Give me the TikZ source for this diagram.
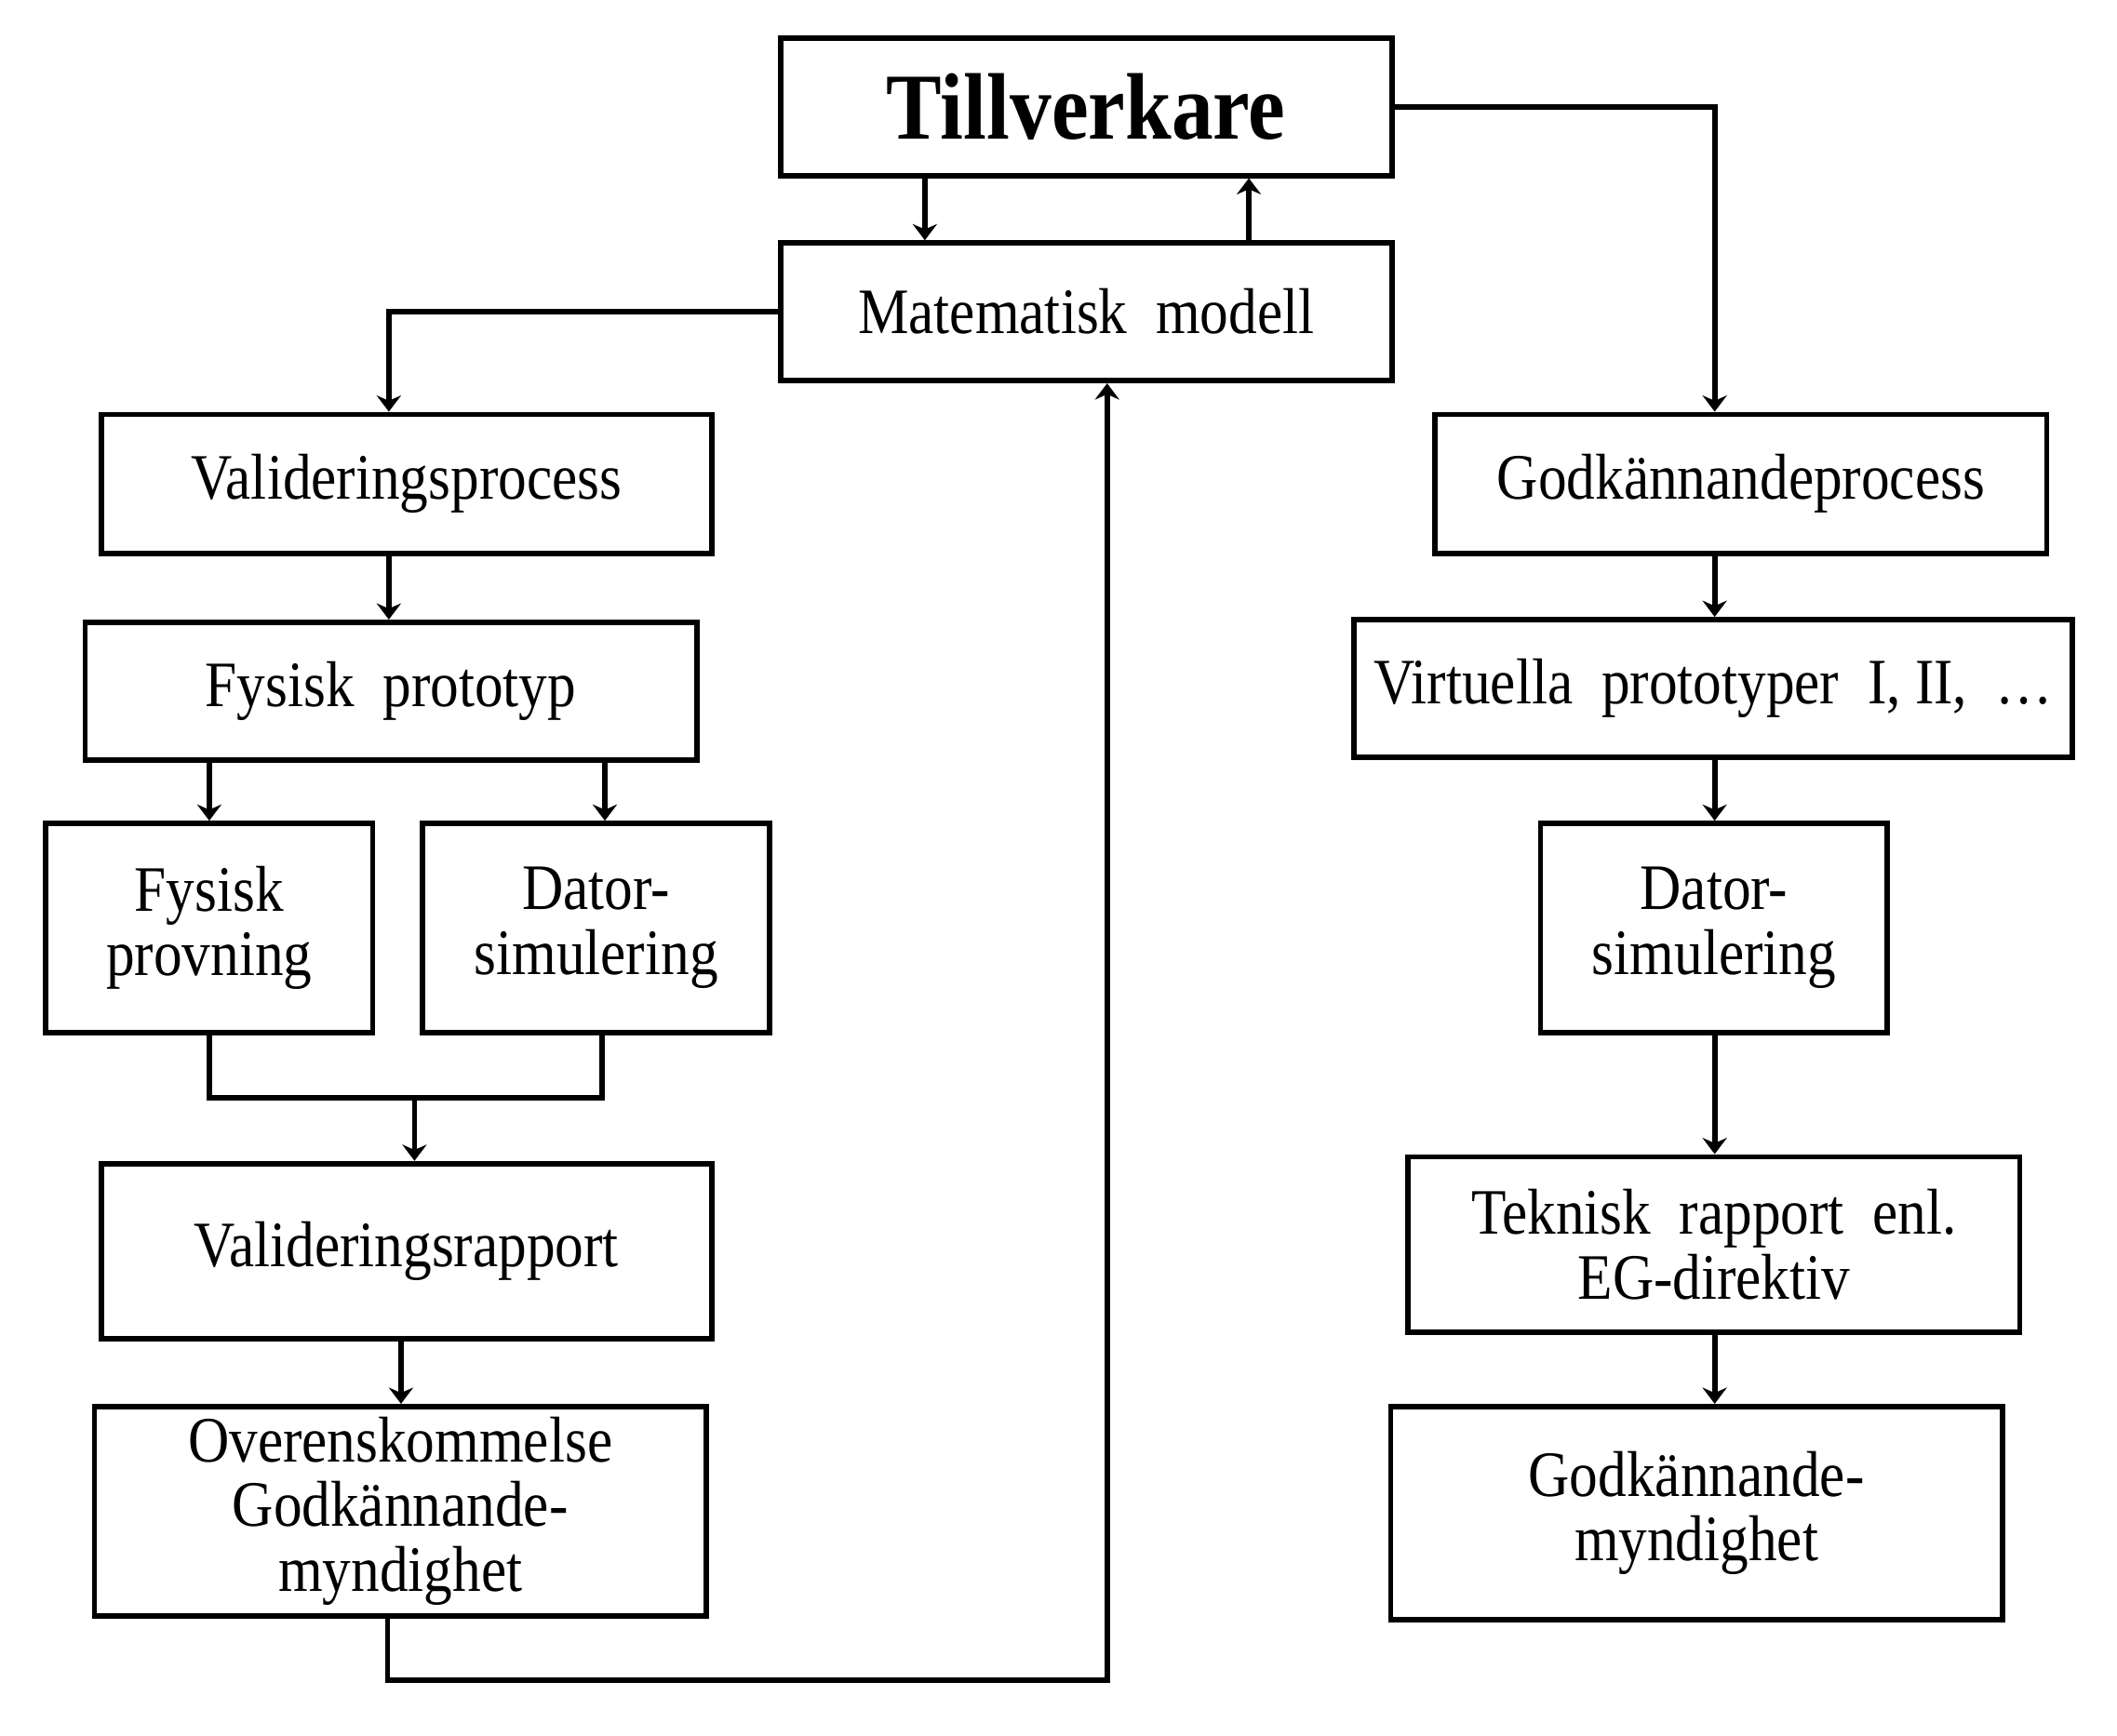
\documentclass[tikz,border=0pt]{standalone}
\usepackage{fontspec}
\setmainfont{Liberation Serif}[FakeStretch=0.88]
\usetikzlibrary{arrows.meta}
\begin{document}
\begin{tikzpicture}[x=0.5pt,y=-0.5pt,
  box/.style={draw, line width=2pt, inner sep=0pt, align=center,
    font=\fontsize{24}{24}\selectfont},
  conn/.style={line width=2pt},
  arr/.style={line width=2pt, -{Stealth[length=6pt,width=9pt]}}]
\useasboundingbox (0,0) rectangle (1568,1286);
% boxes
\node[box, minimum width=226.5pt, minimum height=51pt, font=\fontsize{35}{35}\selectfont\bfseries] (till) at (804.5,79) {Tillverkare};
\node[box, minimum width=226.5pt, minimum height=51pt] (mat) at (804.5,231) {Matematisk\ \ modell};
\node[box, minimum width=226pt, minimum height=51.5pt] (valp) at (301,358.5) {Valideringsprocess};
\node[box, minimum width=226.5pt, minimum height=51pt] (fproto) at (289.5,512) {Fysisk\ \ prototyp};
\node[box, minimum width=121pt, minimum height=77.5pt] (fprov) at (155,687.5) {Fysisk\\provning};
\node[box, minimum width=128.5pt, minimum height=77.5pt] (dsimL) at (441.5,687.5) {Dator-\\simulering};
\node[box, minimum width=226pt, minimum height=65pt] (valr) at (301,927) {Valideringsrapport};
\node[box, minimum width=226.5pt, minimum height=77.5pt] (over) at (296.5,1119.5) {Overenskommelse\\Godkännande-\\myndighet};
\node[box, minimum width=226.5pt, minimum height=51.5pt] (godp) at (1289.5,358.5) {Godkännandeprocess};
\node[box, minimum width=266pt, minimum height=51pt] (virt) at (1269,510) {Virtuella\ \ prototyper\ \ I,\ II,\ \ \dots};
\node[box, minimum width=128.5pt, minimum height=77.5pt] (dsimR) at (1269.5,687.5) {Dator-\\simulering};
\node[box, minimum width=226.5pt, minimum height=65pt] (tek) at (1269.5,922) {Teknisk\ \ rapport\ \ enl.\\EG-direktiv};
\node[box, minimum width=226.5pt, minimum height=79pt] (godm) at (1256.5,1121) {Godkännande-\\myndighet};
% helper coordinates
\coordinate (xA) at (685,0);
\coordinate (xB) at (925,0);
\coordinate (xR) at (1270,0);
\coordinate (xL) at (288,0);
\coordinate (xD) at (448,0);
\coordinate (xE) at (446,0);
\coordinate (jL) at (307,813);
\coordinate (xV) at (297,0);
\coordinate (b1) at (287,1245);
\coordinate (b2) at (820,1245);
% connectors
\draw[arr] (till.south -| xA) -- (mat.north -| xA);
\draw[arr] (mat.north -| xB) -- (till.south -| xB);
\draw[arr] (till.east) -| (godp.north -| xR);
\draw[arr] (mat.west) -| (valp.north -| xL);
\draw[arr] (valp.south -| xL) -- (fproto.north -| xL);
\draw[arr] (fproto.south -| fprov.north) -- (fprov.north);
\draw[arr] (fproto.south -| xD) -- (dsimL.north -| xD);
\draw[conn] (fprov.south) |- (jL) -| (dsimL.south -| xE);
\draw[arr] (jL) -- (valr.north -| jL);
\draw[arr] (valr.south -| xV) -- (over.north -| xV);
\draw[arr] (over.south -| b1) -- (b1) -- (b2) -- (mat.south -| b2);
\draw[arr] (godp.south -| xR) -- (virt.north -| xR);
\draw[arr] (virt.south -| xR) -- (dsimR.north -| xR);
\draw[arr] (dsimR.south -| xR) -- (tek.north -| xR);
\draw[arr] (tek.south -| xR) -- (godm.north -| xR);
\end{tikzpicture}
\end{document}
